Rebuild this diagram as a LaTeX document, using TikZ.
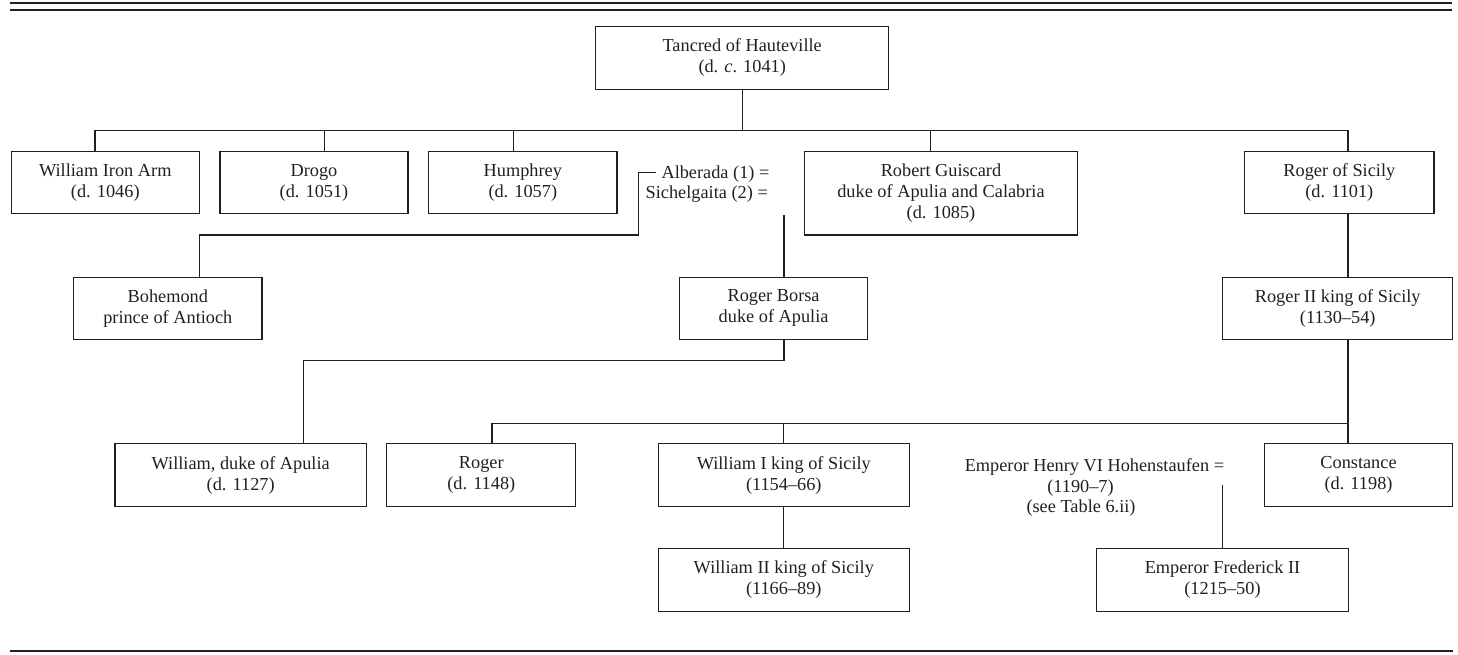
\documentclass[tikz,border=0pt]{standalone}
\usepackage{fontspec}
\setmainfont{Liberation Serif}
\definecolor{ink}{RGB}{35,31,32}
\newcommand\myfont{\fontsize{18.3}{21}\selectfont}
\begin{document}
\begin{tikzpicture}[x=1pt,y=-1pt,
  person/.style={draw=ink, line width=1.1pt, inner sep=0pt, align=center, font=\myfont, text=ink},
  txt/.style={inner sep=0pt, font=\myfont, text=ink},
  conn/.style={draw=ink, line width=1.1pt},
  rulefat/.style={draw=ink, line width=2pt}]
\useasboundingbox (0,0) rectangle (1458,654);
% rules
\draw[rulefat] (10,2.8) -- (1452,2.8);
\draw[rulefat] (10,9.8) -- (1452,9.8);
\draw[rulefat] (10,650.7) -- (1453,650.7);

% nodes
\node[person, minimum width=292.9pt, minimum height=63.3pt] (tancred) at (742.2,57.7) {Tancred of Hauteville\\(d. \textit{c}. 1041)};
\node[person, minimum width=188.5pt, minimum height=61.6pt] (wia) at (105.3,182.5) {William Iron Arm\\(d. 1046)};
\node[person, minimum width=188pt, minimum height=61.6pt] (drogo) at (314,182.5) {Drogo\\(d. 1051)};
\node[person, minimum width=188.4pt, minimum height=61.6pt] (humphrey) at (522.8,182.5) {Humphrey\\(d. 1057)};
\node[person, minimum width=273pt, minimum height=83.3pt] (robert) at (941,193.3) {Robert Guiscard\\duke of Apulia and Calabria\\(d. 1085)};
\node[person, minimum width=189.4pt, minimum height=61.6pt] (rogersic) at (1339.3,182.5) {Roger of Sicily\\(d. 1101)};
\node[txt, anchor=base east] (alb) at (769.6,178.7) {Alberada (1) =};
\node[txt, anchor=base east] (sich) at (768,198.7) {Sichelgaita (2) =};
\node[person, minimum width=188.3pt, minimum height=62.3pt] (boh) at (167.8,308.2) {Bohemond\\prince of Antioch};
\node[person, minimum width=188.6pt, minimum height=62.3pt] (borsa) at (773.6,308.2) {Roger Borsa\\duke of Apulia};
\node[person, minimum width=230pt, minimum height=62.3pt] (rogerII) at (1337.7,308.2) {Roger II king of Sicily\\(1130--54)};
\node[person, minimum width=251.4pt, minimum height=63.4pt] (wduke) at (240.7,475) {William, duke of Apulia\\(d. 1127)};
\node[person, minimum width=188.9pt, minimum height=63.4pt] (roger) at (481.3,475) {Roger\\(d. 1148)};
\node[person, minimum width=251pt, minimum height=63.4pt] (william1) at (783.8,475) {William I king of Sicily\\(1154--66)};
\node[person, minimum width=251pt, minimum height=62.7pt] (william2) at (783.8,579.7) {William II king of Sicily\\(1166--89)};
\node[person, minimum width=188.4pt, minimum height=63.4pt] (constance) at (1358.5,475) {Constance\\(d. 1198)};
\node[person, minimum width=251.6pt, minimum height=62.7pt] (frederick) at (1222.5,579.7) {Emperor Frederick II\\(1215--50)};
\node[txt, anchor=base east] (henry) at (1224.3,471) {Emperor Henry VI Hohenstaufen =};
\node[txt, anchor=base] (henry2) at (1080.5,492) {(1190--7)};
\node[txt, anchor=base] (henry3) at (1081,512) {(see Table 6.ii)};

% coordinates
\coordinate (b1) at (95,130.7);
\coordinate (b6) at (1348,130.7);
\coordinate (ab1) at (656,172.7);
\coordinate (ab2) at (638.5,235);
\coordinate (ab3) at (199.3,235);
\coordinate (sg) at (784,215);
\coordinate (bw) at (303.5,360.7);
\coordinate (g1) at (492,423.3);
\coordinate (hf) at (1222.3,485);

% connectors
\draw[conn] (tancred.south) -- (tancred.south |- b1);
\draw[conn] (b1 |- wia.north) -- (b1) -- (b6) -- (b6 |- rogersic.north);
\draw[conn] (324.3,130.7) -- (324.3,130.7 |- drogo.north);
\draw[conn] (513.6,130.7) -- (513.6,130.7 |- humphrey.north);
\draw[conn] (930.4,130.7) -- (930.4,130.7 |- robert.north);
\draw[conn] (ab1) -| (ab2) -- (ab3) -- (ab3 |- boh.north);
\draw[conn] (sg) -- (sg |- borsa.north);
\draw[conn] (sg |- borsa.south) |- (bw) -- (bw |- wduke.north);
\draw[conn] (b6 |- rogersic.south) -- (b6 |- rogerII.north);
\draw[conn] (b6 |- rogerII.south) -- (b6 |- constance.north);
\draw[conn] (b6 |- g1) -- (g1) -- (g1 |- roger.north);
\draw[conn] (william1.north |- g1) -- (william1.north);
\draw[conn] (william1.south) -- (william2.north);
\draw[conn] (hf) -- (hf |- frederick.north);
\end{tikzpicture}
\end{document}
